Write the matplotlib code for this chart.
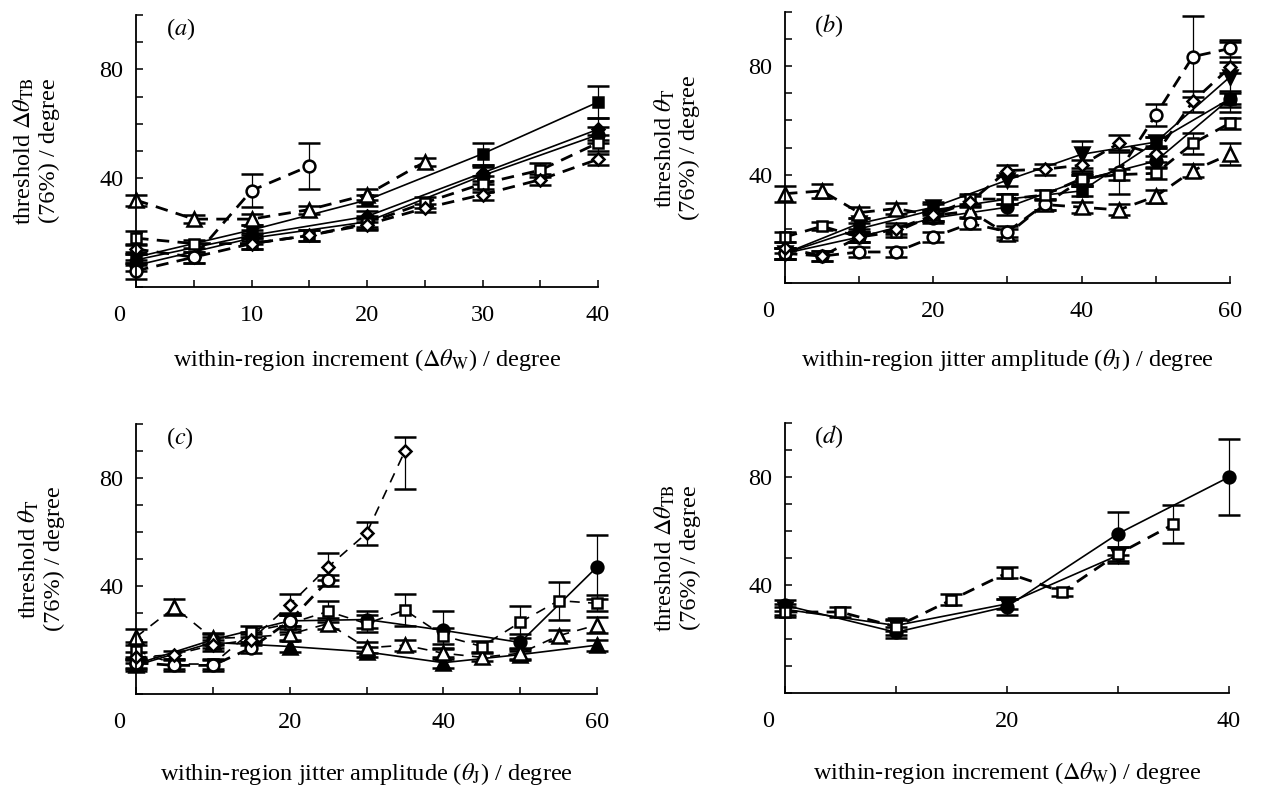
import matplotlib.pyplot as plt
from matplotlib.ticker import FixedLocator, FuncFormatter
from matplotlib.transforms import ScaledTranslation

plt.rcParams["font.family"] = "serif"
plt.rcParams["font.serif"] = ["Liberation Serif", "DejaVu Serif"]
plt.rcParams["mathtext.fontset"] = "stix"

# ---- panel (a): within-region increment ----
a_x_circle = [0, 5, 10, 15]
a_circle = [6, 11, 35.5, 44.5]
a_circle_err = [3, 2, 6, 8.5]
a_x_tri = [0, 5, 10, 15, 20, 25]
a_tri = [32, 25, 25, 28.5, 34, 46]
a_tri_err = [2, 1.5, 2, 1.5, 2, 1.5]
a_x_open = [0, 5, 10, 15, 20, 25, 30, 35, 40]
a_square = [18, 16, 16, 19, 23.5, 31, 38, 43, 53]
a_square_err = [2.5, 1.5, 2, 2, 2, 2, 3, 2.5, 3]
a_diamond = [14, 11, 16, 19, 23, 29, 34, 39.5, 47]
a_diamond_err = [2, 2, 2, 2, 2, 1.5, 2, 2, 2]
a_x_solid = [0, 10, 20, 30, 40]
a_fsquare = [11, 21, 32, 49, 68]
a_fsquare_err = [2, 2, 2, 4, 6]
a_fdiamond = [10, 19, 26, 42, 58]
a_fdiamond_err = [2, 2, 2, 3, 4]
a_fcircle = [8, 18, 24, 41, 56]
a_fcircle_err = [2, 2, 2, 3, 3]

# ---- panel (b): within-region jitter amplitude ----
b_x_open = [0, 5, 10, 15, 20, 25, 30, 35, 40, 45, 50, 55, 60]
b_tri = [33, 34, 26, 27.5, 25, 26.5, 18, 29, 28, 27, 32, 41.5, 47.5]
b_tri_err = [3, 2.5, 2, 2, 2, 2, 2, 2, 2, 2, 2.5, 2.5, 4]
b_circle = [11, 10, 11.5, 11.5, 17, 22, 19, 29, 38, 41, 62, 83.5, 86.5]
b_circle_err = [2, 2, 2, 2, 2, 2, 2, 2, 2, 8, 4, 15, 3]
b_square = [17, 21, 17, 19, 25, 31, 31, 32.5, 38.5, 40, 40.5, 51.5, 59]
b_square_err = [2, 1.5, 2, 2, 2, 2, 2, 2, 2, 2, 2, 4, 2]
b_diamond = [13, 10, 17, 20, 25, 30, 41.5, 42, 43.5, 51.5, 47.5, 67, 79.5]
b_diamond_err = [2, 2, 2, 2, 2, 2, 2, 2, 2, 3, 3, 4, 2]
b_x_solid = [0, 10, 20, 30, 40, 50, 60]
b_fdown = [11, 22, 28, 38, 47.5, 52, 76]
b_fdown_err = [2, 2, 2, 2, 5, 2, 13]
b_fsquare = [11, 20, 27, 31, 34, 52, 68]
b_fsquare_err = [2, 2, 2, 2, 2, 2, 3]
b_fcircle = [11, 17, 24, 28, 38, 45, 68]
b_fcircle_err = [2, 2, 2, 3, 2, 2, 2]

# ---- panel (c): within-region jitter amplitude ----
c_x_diamond = [0, 5, 10, 15, 20, 25, 30, 35]
c_diamond = [13.5, 14.5, 18, 20, 33, 47, 59.5, 90]
c_diamond_lo = [2, 1.5, 2, 2, 3, 5, 4.5, 14]
c_diamond_hi = [2, 1.5, 2, 2, 4, 5, 4, 5]
c_x_circle = [0, 5, 10, 15, 20, 25]
c_circle = [11.5, 10.5, 10.5, 17, 27, 42]
c_circle_err = [2, 2, 2, 2, 2, 2]
c_x_open = [0, 5, 10, 15, 20, 25, 30, 35, 40, 45, 50, 55, 60]
c_square = [16, 11, 11, 23, 26, 30.5, 26, 31, 21.5, 17.5, 26.5, 34.5, 33.5]
c_square_err = [3, 2, 2, 2, 3, 4, 3, 6, 3, 2, 6, 7, 3]
c_tri = [21, 32, 20.5, 21, 22, 26, 17, 18, 15, 13.5, 15, 21.5, 25.5]
c_tri_err = [3, 3, 2, 2, 2, 2, 2, 2, 2, 1.5, 2, 2, 3]
c_x_solid = [0, 10, 20, 30, 40, 50, 60]
c_fcircle = [11, 20, 27, 27.5, 23.5, 19, 47]
c_fcircle_err = [2, 2, 2, 3, 7, 3, 12]
c_ftri = [10.5, 19, 17.5, 15.5, 11.5, 14.5, 18]
c_ftri_err = [2, 2, 2, 2, 2, 2, 2]

# ---- panel (d): within-region increment ----
d_x_fcircle = [0, 10, 20, 30, 40]
d_fcircle = [32.5, 22.5, 32, 59, 80]
d_fcircle_err = [2, 2, 3, 8, 14]
d_x_fdown = [0, 10, 20, 30]
d_fdown = [31, 25, 33, 51]
d_fdown_err = [2, 2, 2, 3]
d_x_square = [0, 5, 10, 15, 20, 25, 30, 35]
d_square = [30, 30, 24.5, 34.5, 44.5, 37.5, 51.5, 62.5]
d_square_err = [2, 2, 3, 2, 2, 1.5, 2.5, 7]

XLABEL_INC = r"within-region increment ($\mathit{\Delta}\theta_{\mathrm{W}}$) / degree"
XLABEL_JIT = r"within-region jitter amplitude ($\theta_{\mathrm{J}}$) / degree"
YLABEL_TB = "threshold $\\mathit{\\Delta}\\theta_{\\mathrm{TB}}$\n(76%) / degree"
YLABEL_T = "threshold $\\theta_{\\mathrm{T}}$\n(76%) / degree"

MS = {"o": 8.5, "^": 9.5, "s": 7.5, "D": 6.5, "v": 9.5}


def series(ax, x, y, err, marker, filled, line):
    eb = ax.errorbar(
        x, y, yerr=err, marker=marker, ms=MS[marker],
        mfc="black" if filled else "white", mec="black", mew=1.8,
        color="black", ecolor="black", elinewidth=0.9,
        capsize=8, capthick=0.9, clip_on=False,
        lw=2.0 if line == "thick" else 1.2,
    )
    if line == "thick":
        eb.lines[0].set_dashes((4.5, 3))
    elif line == "thin":
        eb.lines[0].set_dashes((6, 5))
    for art in list(eb.lines[1]) + list(eb.lines[2]):
        art.set_clip_on(False)


def style(ax, xmax, xstep, xlabels, letter, xlabel, ylabel, ylab_x, xlab_y):
    ax.set_xlim(0, xmax)
    ax.set_ylim(0, 100)
    for s in ("top", "right"):
        ax.spines[s].set_visible(False)
    for s in ("left", "bottom"):
        ax.spines[s].set_linewidth(1.3)
    ax.xaxis.set_major_locator(FixedLocator(list(range(0, xmax + 1, xstep))))
    ax.xaxis.set_major_formatter(FuncFormatter(lambda v, p: str(int(v)) if int(v) in xlabels else ""))
    ax.yaxis.set_major_locator(FixedLocator(list(range(0, 101, 10))))
    ax.yaxis.set_major_formatter(FuncFormatter(lambda v, p: str(int(v)) if int(v) in (40, 80) else ""))
    ax.tick_params(direction="in", length=5, width=1.1, labelsize=17.5)
    ax.tick_params(axis="x", pad=13)
    ax.tick_params(axis="y", pad=9)
    ax.set_xlabel(xlabel, fontsize=17.5)
    ax.xaxis.set_label_coords(0.5, xlab_y)
    ax.set_ylabel(ylabel, fontsize=17.5, linespacing=1.15)
    ax.yaxis.set_label_coords(ylab_x, 0.5)
    ax.text(0.065, 0.925, "($" + letter + "$)", transform=ax.transAxes, fontsize=17.5)
    # origin label sits left of the corner
    tick0 = ax.xaxis.get_major_ticks()[0]
    tick0.label1.set_transform(tick0.label1.get_transform() + ScaledTranslation(-0.17, 0, ax.figure.dpi_scale_trans))


fig = plt.figure(figsize=(12.63, 7.91), dpi=100)
ax_a = fig.add_axes([0.1077, 0.637, 0.3658, 0.344])
ax_b = fig.add_axes([0.6215, 0.642, 0.3523, 0.343])
ax_c = fig.add_axes([0.1077, 0.123, 0.3650, 0.341])
ax_d = fig.add_axes([0.6215, 0.124, 0.3515, 0.341])

# (a)
series(ax_a, a_x_solid, a_fsquare, a_fsquare_err, "s", True, "solid")
series(ax_a, a_x_solid, a_fdiamond, a_fdiamond_err, "D", True, "solid")
series(ax_a, a_x_solid, a_fcircle, a_fcircle_err, "o", True, "solid")
series(ax_a, a_x_open, a_square, a_square_err, "s", False, "thick")
series(ax_a, a_x_open, a_diamond, a_diamond_err, "D", False, "thick")
series(ax_a, a_x_tri, a_tri, a_tri_err, "^", False, "thick")
series(ax_a, a_x_circle, a_circle, a_circle_err, "o", False, "thick")
style(ax_a, 40, 5, (0, 10, 20, 30, 40), "a", XLABEL_INC, YLABEL_TB, -0.165, -0.22)

# (b)
series(ax_b, b_x_solid, b_fdown, b_fdown_err, "v", True, "solid")
series(ax_b, b_x_solid, b_fsquare, b_fsquare_err, "s", True, "solid")
series(ax_b, b_x_solid, b_fcircle, b_fcircle_err, "o", True, "solid")
series(ax_b, b_x_open, b_tri, b_tri_err, "^", False, "thick")
series(ax_b, b_x_open, b_circle, b_circle_err, "o", False, "thick")
series(ax_b, b_x_open, b_square, b_square_err, "s", False, "thick")
series(ax_b, b_x_open, b_diamond, b_diamond_err, "D", False, "thick")
style(ax_b, 60, 10, (0, 20, 40, 60), "b", XLABEL_JIT, YLABEL_T, -0.19, -0.235)

# (c)
series(ax_c, c_x_solid, c_fcircle, c_fcircle_err, "o", True, "solid")
series(ax_c, c_x_solid, c_ftri, c_ftri_err, "^", True, "solid")
series(ax_c, c_x_open, c_tri, c_tri_err, "^", False, "thin")
series(ax_c, c_x_open, c_square, c_square_err, "s", False, "thin")
series(ax_c, c_x_circle, c_circle, c_circle_err, "o", False, "thick")
series(ax_c, c_x_diamond, c_diamond, [c_diamond_lo, c_diamond_hi], "D", False, "thin")
style(ax_c, 60, 10, (0, 20, 40, 60), "c", XLABEL_JIT, YLABEL_T, -0.155, -0.25)

# (d)
series(ax_d, d_x_fcircle, d_fcircle, d_fcircle_err, "o", True, "solid")
series(ax_d, d_x_fdown, d_fdown, d_fdown_err, "v", True, "solid")
series(ax_d, d_x_square, d_square, d_square_err, "s", False, "thick")
style(ax_d, 40, 10, (0, 20, 40), "d", XLABEL_INC, YLABEL_TB, -0.19, -0.25)

fig.savefig("out.png", dpi=100)
